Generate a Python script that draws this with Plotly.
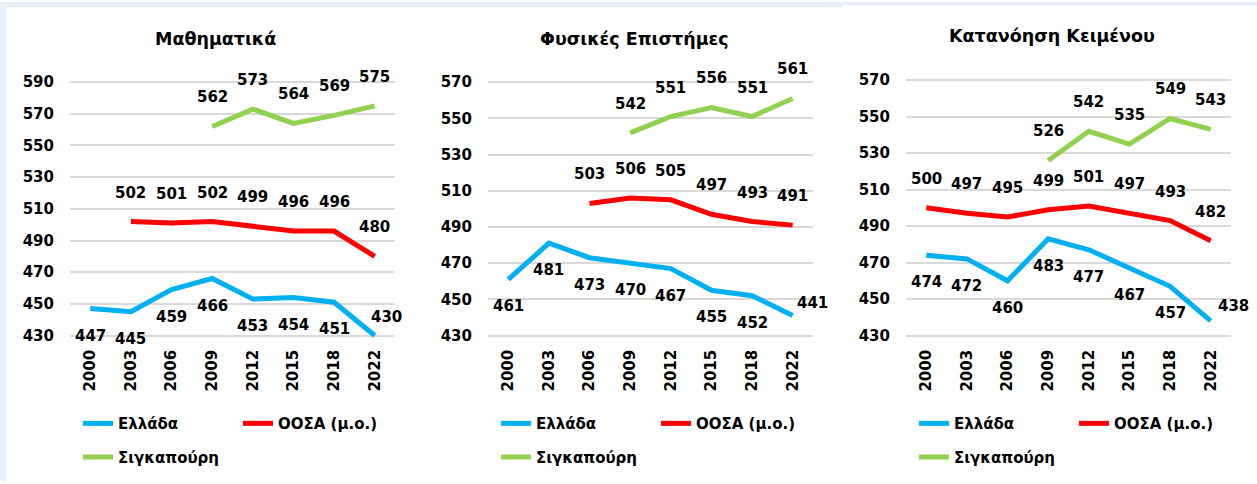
import plotly.graph_objects as go

W, H = 1257, 484

years = ["2000", "2003", "2006", "2009", "2012", "2015", "2018", "2022"]
subjects = ["Μαθηματικά", "Φυσικές Επιστήμες", "Κατανόηση Κειμένου"]
series_names = ["Ελλάδα", "ΟΟΣΑ (μ.ο.)", "Σιγκαπούρη"]

math_greece = [447, 445, 459, 466, 453, 454, 451, 430]
math_oecd = [None, 502, 501, 502, 499, 496, 496, 480]
math_singapore = [None, None, None, 562, 573, 564, 569, 575]

sci_greece = [461, 481, 473, 470, 467, 455, 452, 441]
sci_oecd = [None, None, 503, 506, 505, 497, 493, 491]
sci_singapore = [None, None, None, 542, 551, 556, 551, 561]

read_greece = [474, 472, 460, 483, 477, 467, 457, 438]
read_oecd = [500, 497, 495, 499, 501, 497, 493, 482]
read_singapore = [None, None, None, 526, 542, 535, 549, 543]

y_ranges = [(430, 590), (430, 570), (430, 570)]
y_dtick = 20

# ---- styling ----
FONT = "DejaVu Sans"
COLORS = ["#00b0f0", "#ff0000", "#92d050"]
LINE_W = 5
TXT = "#000000"
GRID = "#d9d9d9"

# panel pixel geometry: (x_left, x_right, y_top(max), y_bottom(min))
panels_px = [(70, 395, 81, 337), (488, 813, 81, 337), (906, 1231, 79, 337)]
title_px = [(215, 37), (634, 37), (1052, 34)]
legend_px = [78, 496, 914]
XLABEL_TOP = 347  # pixel row where rotated year labels start
PAD = 4  # data-unit padding so thick lines are not clipped

# label offsets (px): Greece below, others above; last Greek point nudged
SHIFT_BELOW = -27
SHIFT_ABOVE = 29
last_greek_nudge = [(12, 19), (20, 13), (23, 15)]

data = [
    [math_greece, math_oecd, math_singapore],
    [sci_greece, sci_oecd, sci_singapore],
    [read_greece, read_oecd, read_singapore],
]

fig = go.Figure()
annotations = []
shapes = []

for p in range(3):
    xl, xr, yt, yb = panels_px[p]
    lo, hi = y_ranges[p]
    ppu = (yb - yt) / (hi - lo)
    rlo, rhi = lo - PAD, hi + PAD
    dom_y0 = (H - (yb + PAD * ppu)) / H
    dom_y1 = (H - (yt - PAD * ppu)) / H
    sfx = "" if p == 0 else str(p + 1)
    xa, ya = "x" + sfx, "y" + sfx

    leg_main = "legend" if p == 0 else "legend" + str(2 * p + 1)
    leg_sub = "legend" + str(2 * p + 2)

    for s in range(3):
        vals = data[p][s]
        fig.add_trace(go.Scatter(
            x=years, y=vals, name=series_names[s], mode="lines",
            line=dict(color=COLORS[s], width=LINE_W),
            xaxis=xa, yaxis=ya, connectgaps=False, hoverinfo="skip",
            legend=leg_main if s < 2 else leg_sub,
        ))
        for i, v in enumerate(vals):
            if v is None:
                continue
            xs, ys = 0, (SHIFT_BELOW if s == 0 else SHIFT_ABOVE)
            if s == 0 and i == len(vals) - 1:
                xs, ys = last_greek_nudge[p]
            annotations.append(dict(
                x=i, y=v, xref=xa, yref=ya, text=str(v),  # category index
                showarrow=False, xshift=xs, yshift=ys,
                font=dict(family=FONT, size=15, color=TXT, weight="bold"),
            ))

    axis_common = dict(
        tickfont=dict(family=FONT, size=15, color=TXT, weight="bold"),
    )
    fig.layout["xaxis" + sfx] = dict(
        domain=[xl / W, xr / W], anchor=ya, type="category",
        categoryorder="array", categoryarray=years,
        range=[-0.5, len(years) - 0.5],
        tickangle=-90, showgrid=False, zeroline=False, showline=False,
        ticks="", ticklabelstandoff=max(0, int(round(XLABEL_TOP - (yb + PAD * ppu)))),
        fixedrange=True,
        **axis_common,
    )
    fig.layout["yaxis" + sfx] = dict(
        domain=[dom_y0, dom_y1], anchor=xa, range=[rlo, rhi],
        tick0=lo, dtick=y_dtick, tickmode="linear",
        showgrid=True, gridcolor=GRID, gridwidth=2,
        zeroline=False, showline=False, ticks="",
        ticklabelstandoff=15, fixedrange=True,
        **axis_common,
    )

    tx, ty = title_px[p]
    annotations.append(dict(
        x=tx / W, y=(H - ty) / H, xref="paper", yref="paper",
        text=subjects[p], showarrow=False, xanchor="center", yanchor="middle",
        font=dict(family=FONT, size=17.5, color=TXT, weight="bold"),
    ))

    lx = legend_px[p]
    leg_style = dict(
        orientation="h", xanchor="left", yanchor="middle",
        font=dict(family=FONT, size=15, color=TXT, weight="bold"),
        bgcolor="rgba(0,0,0,0)", entrywidth=115, entrywidthmode="pixels",
        itemwidth=30, x=lx / W,
    )
    fig.layout[leg_main] = dict(y=(H - 426) / H, **leg_style)
    fig.layout[leg_sub] = dict(y=(H - 460) / H, **leg_style)

# background strips of the surrounding page
BAND = "#e9eef7"
shapes.append(dict(type="rect", xref="paper", yref="paper", x0=0, x1=842 / W,
                   y0=(H - 5) / H, y1=1, fillcolor=BAND, line_width=0, layer="below"))
shapes.append(dict(type="rect", xref="paper", yref="paper", x0=842 / W, x1=1,
                   y0=(H - 3) / H, y1=1, fillcolor=BAND, line_width=0, layer="below"))
shapes.append(dict(type="rect", xref="paper", yref="paper", x0=0, x1=6 / W,
                   y0=0, y1=1, fillcolor=BAND, line_width=0, layer="below"))

fig.update_layout(
    width=W, height=H, margin=dict(l=0, r=0, t=0, b=0),
    paper_bgcolor="white", plot_bgcolor="white",
    annotations=annotations, shapes=shapes, showlegend=True,
    font=dict(family=FONT, color=TXT),
)

fig.write_html(
    "out.html", config={"displayModeBar": False},
    post_script="document.body.style.margin='0';document.body.style.overflow='hidden';",
)
